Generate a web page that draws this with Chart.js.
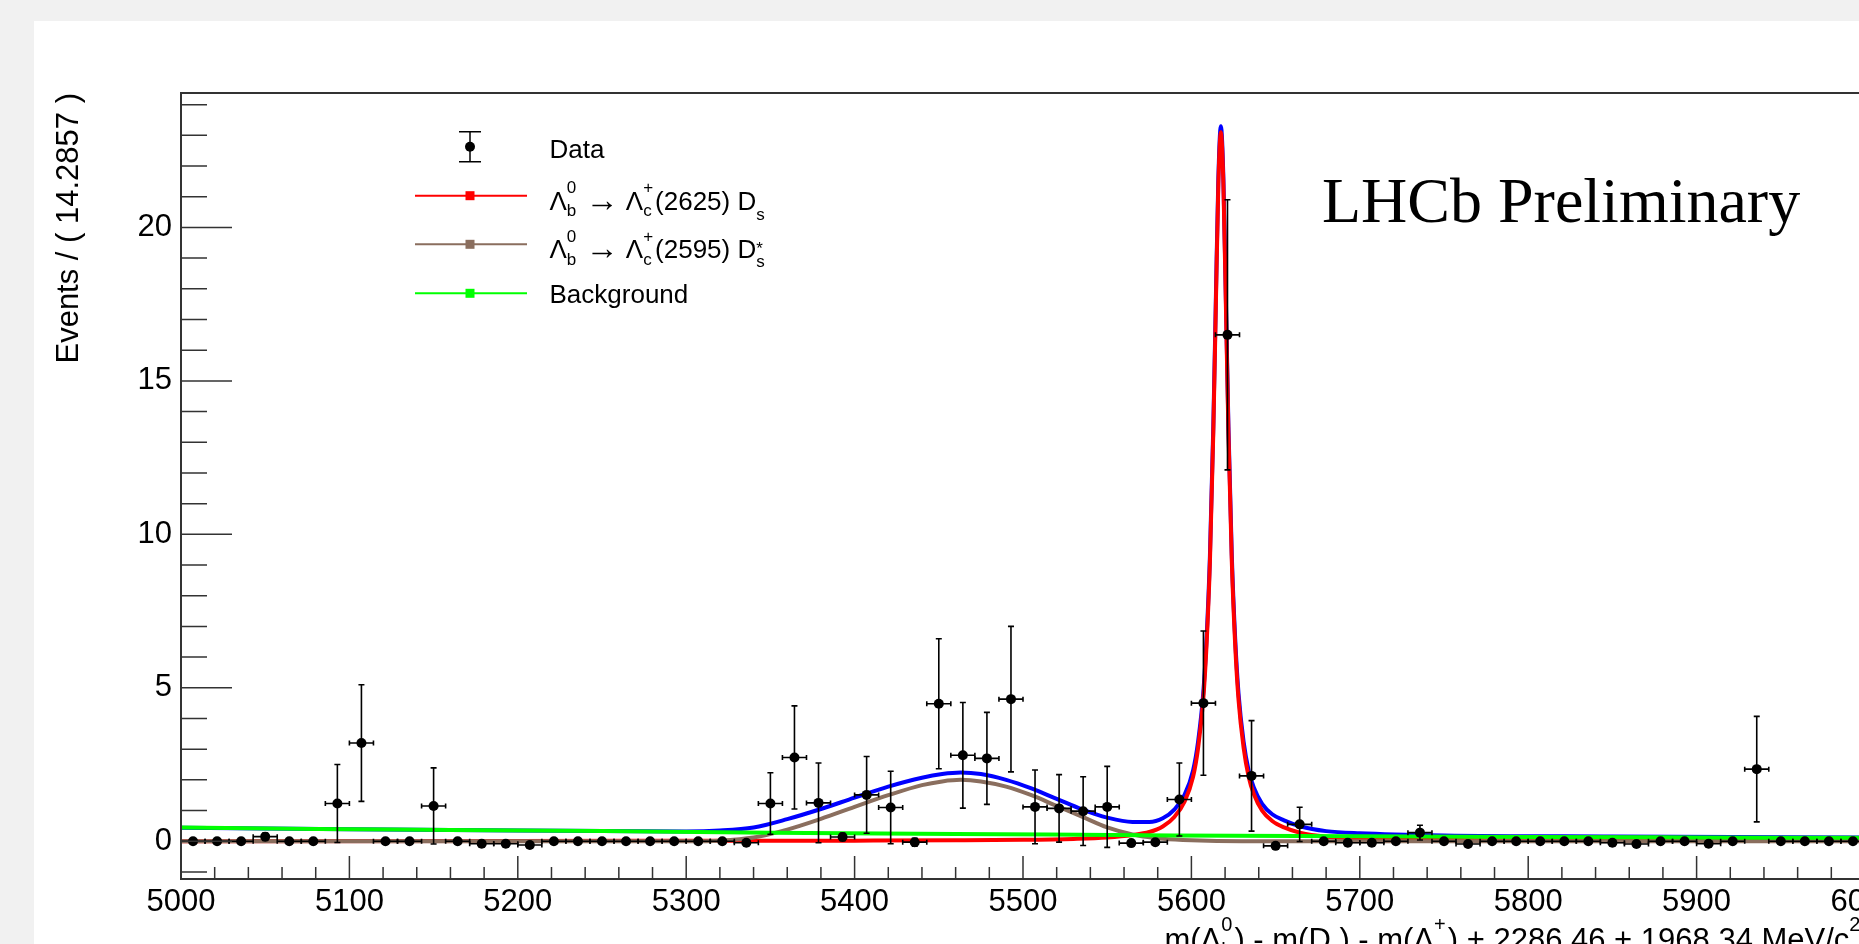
<!DOCTYPE html>
<html>
<head>
<meta charset="utf-8">
<title>Lambda_b fit</title>
<script src="https://cdn.jsdelivr.net/npm/chart.js@4.4.1/dist/chart.umd.min.js"></script>
<style>
  html, body { margin: 0; padding: 0; width: 1859px; height: 944px; overflow: hidden; background: #f1f1f1; }
  #panel { position: absolute; left: 34px; top: 21px; right: 0; bottom: 0; background: #fff; }
  #chart { position: absolute; left: 0; top: 0; }
</style>
</head>
<body>
<div id="panel"></div>
<canvas id="chart" width="1900" height="944"></canvas>
<script>
const SANS = '"Liberation Sans", Arial, Helvetica, sans-serif';
const SERIF = '"Liberation Serif", "Times New Roman", serif';

// 70 bins of 14.2857 MeV between 5000 and 6000
const binStart = 5000;
const binWidth = 1000 / 70;
const dataY = [
  0, 0, 0, 0.15, 0, 0, 1.23, 3.2, 0, 0,
  1.15, 0, -0.08, -0.08, -0.12, 0, 0, 0, 0, 0,
  0, 0, 0, -0.05, 1.23, 2.73, 1.25, 0.14, 1.51, 1.1,
  -0.03, 4.48, 2.8, 2.7, 4.63, 1.12, 1.07, 0.98, 1.12, -0.06,
  -0.03, 1.36, 4.5, 16.5, 2.13, -0.15, 0.55, 0, -0.05, -0.05,
  0, 0.28, 0, -0.09, 0, 0, 0, 0, 0, -0.05,
  -0.09, 0, 0, -0.08, 0, 2.35, 0, 0, 0, 0
];
const dataErr = [
  0, 0, 0, 0.12, 0, 0, 1.27, 1.9, 0, 0,
  1.24, 0, 0.08, 0.08, 0.1, 0, 0, 0, 0, 0,
  0, 0, 0, 0.05, 1.0, 1.68, 1.3, 0.12, 1.25, 1.18,
  0.13, 2.12, 1.72, 1.5, 2.37, 1.2, 1.1, 1.12, 1.32, 0.06,
  0.08, 1.19, 2.35, 4.4, 1.8, 0.08, 0.56, 0, 0.05, 0.05,
  0, 0.24, 0, 0.08, 0, 0, 0, 0, 0, 0.05,
  0.08, 0, 0, 0.08, 0, 1.72, 0, 0, 0, 0
];

// total fit (blue)
const totalX = [5000, 5100, 5200, 5300, 5320, 5340, 5360, 5380, 5400, 5420, 5440, 5452, 5463, 5475, 5490, 5505, 5520, 5535, 5550,
  5565, 5575, 5583, 5590, 5596, 5601, 5604, 5607, 5609, 5611, 5613, 5614.5, 5616, 5617.5, 5619, 5620.5, 5622, 5624, 5626, 5628,
  5631, 5634, 5637, 5642, 5648, 5655, 5665, 5680, 5700, 5750, 5850, 6000];
const totalY = [0.44, 0.39, 0.35, 0.32, 0.35, 0.45, 0.72, 1.05, 1.42, 1.78, 2.07, 2.19, 2.24, 2.19, 2.0, 1.72, 1.38, 1.04, 0.77,
  0.63, 0.63, 0.75, 1.04, 1.52, 2.31, 3.26, 4.8, 6.6, 9.3, 13.5, 17.6, 21.6, 23.3, 21.6, 17.6, 13.5, 9.3, 6.6, 4.8,
  3.24, 2.3, 1.76, 1.22, 0.88, 0.68, 0.48, 0.33, 0.26, 0.19, 0.155, 0.125];

// Lambda_c(2625) Ds component (red)
const peakX = [5000, 5200, 5400, 5460, 5500, 5530, 5550, 5565, 5575, 5583, 5590, 5596, 5601, 5604, 5607, 5609, 5611, 5613, 5614.5,
  5616, 5617.5, 5619, 5620.5, 5622, 5624, 5626, 5628, 5631, 5634, 5637, 5642, 5648, 5655, 5665, 5680, 5700, 5750, 5850, 6000];
const peakY = [0, 0.01, 0.02, 0.03, 0.045, 0.075, 0.12, 0.2, 0.3, 0.48, 0.8, 1.3, 2.1, 3.05, 4.6, 6.4, 9.1, 13.3, 17.4,
  21.4, 23.1, 21.4, 17.4, 13.3, 9.1, 6.4, 4.6, 3.05, 2.1, 1.55, 1.0, 0.66, 0.45, 0.27, 0.15, 0.09, 0.04, 0.015, 0.005];

// Lambda_c(2595) Ds* component (brown)
const bumpX = [5000, 5300, 5320, 5340, 5360, 5380, 5400, 5420, 5440, 5452, 5463, 5475, 5490, 5505, 5520, 5535, 5550, 5565,
  5575, 5583, 5600, 5630, 6000];
const bumpY = [0, 0, 0.02, 0.12, 0.38, 0.73, 1.12, 1.5, 1.83, 1.95, 2.0, 1.95, 1.78, 1.5, 1.15, 0.8, 0.45, 0.22,
  0.13, 0.08, 0.03, 0, 0];

// background (green)
const bkgX = [5000, 5080, 5160, 5250, 5350, 5460, 5590, 5700, 5800, 5900, 6000];
const bkgY = [0.45, 0.40, 0.37, 0.33, 0.28, 0.24, 0.19, 0.16, 0.14, 0.125, 0.11];

const xTicks = [5000, 5100, 5200, 5300, 5400, 5500, 5600, 5700, 5800, 5900, 6000];
const yTicks = [0, 5, 10, 15, 20];
const xMinorStep = 20;
const yMinorStep = 1;

const RED = '#ff0000', BROWN = '#8a6e5e', GREEN = '#00ff00', BLUE = '#0000ff';

const legendRows = [
  { kind: 'data', parts: ['Data'] },
  { kind: 'line', color: RED, parts: ['Λ', { sup: '0', sub: 'b' }, ' ', { big: '→' }, ' Λ', { sup: '+', sub: 'c' }, '(2625) D', { sub: 's', subDy: 10 }] },
  { kind: 'line', color: BROWN, parts: ['Λ', { sup: '0', sub: 'b' }, ' ', { big: '→' }, ' Λ', { sup: '+', sub: 'c' }, '(2595) D', { sup: '*', sub: 's', supDy: -4, subDy: 9 }] },
  { kind: 'line', color: GREEN, parts: ['Background'] }
];
const xTitleParts = ['m(Λ', { sup: '0', sub: 'b' }, ') - m(D ) - m(Λ', { sup: '+', sub: 'c' }, ') + 2286.46 + 1968.34 MeV/c', { sup: '2' }];

const points = dataY.map((v, i) => ({ x: binStart + (i + 0.5) * binWidth, y: v, err: dataErr[i] }));
const xy = (xs, ys) => xs.map((x, i) => ({ x: x, y: ys[i] }));

// text with ROOT-like stacked super/subscripts
function drawRich(ctx, parts, x, y, size) {
  const small = Math.round(size * 0.65);
  parts.forEach(p => {
    if (typeof p === 'string') {
      ctx.font = size + 'px ' + SANS;
      ctx.fillText(p, x, y);
      x += ctx.measureText(p).width;
    } else if (p.big) {
      ctx.font = Math.round(size * 1.25) + 'px ' + SANS;
      ctx.fillText(p.big, x, y + 1);
      x += ctx.measureText(p.big).width;
    } else {
      ctx.font = small + 'px ' + SANS;
      let w = 0;
      if (p.sup) {
        ctx.fillText(p.sup, x, y + (p.supDy !== undefined ? p.supDy : -size * 0.62));
        w = ctx.measureText(p.sup).width;
      }
      if (p.sub) {
        ctx.fillText(p.sub, x, y + (p.subDy !== undefined ? p.subDy : size * 0.24));
        w = Math.max(w, ctx.measureText(p.sub).width);
      }
      x += w + 2;
    }
  });
}

const rootStyle = {
  id: 'rootStyle',
  beforeDatasetDraw(chart, args) {
    if (args.index !== 0) return;
    const { ctx, scales: { x, y } } = chart;
    ctx.save();
    ctx.strokeStyle = '#000';
    ctx.lineWidth = 1.6;
    chart.data.datasets[0].data.forEach(p => {
      const px = x.getPixelForValue(p.x);
      const py = y.getPixelForValue(p.y);
      const xl = x.getPixelForValue(p.x - binWidth / 2);
      const xr = x.getPixelForValue(p.x + binWidth / 2);
      ctx.beginPath();
      ctx.moveTo(xl, py); ctx.lineTo(xr, py);
      ctx.moveTo(xl, py - 2.5); ctx.lineTo(xl, py + 2.5);
      ctx.moveTo(xr, py - 2.5); ctx.lineTo(xr, py + 2.5);
      if (p.err > 0) {
        const yt = y.getPixelForValue(p.y + p.err);
        const yb = y.getPixelForValue(p.y - p.err);
        ctx.moveTo(px, yt); ctx.lineTo(px, yb);
        ctx.moveTo(px - 3, yt); ctx.lineTo(px + 3, yt);
        ctx.moveTo(px - 3, yb); ctx.lineTo(px + 3, yb);
      }
      ctx.stroke();
    });
    ctx.restore();
  },
  afterDraw(chart) {
    const { ctx, chartArea: a, scales: { x, y } } = chart;
    ctx.save();
    // frame
    ctx.strokeStyle = '#333';
    ctx.lineWidth = 2;
    ctx.strokeRect(a.left, a.top, a.right - a.left, a.bottom - a.top);
    // ticks inside the frame
    ctx.lineWidth = 1.5;
    ctx.beginPath();
    for (let v = Math.ceil(y.min); v <= y.max; v += yMinorStep) {
      const py = y.getPixelForValue(v);
      const len = yTicks.includes(v) ? 51 : 26;
      ctx.moveTo(a.left, py); ctx.lineTo(a.left + len, py);
    }
    for (let v = x.min; v <= x.max; v += xMinorStep) {
      const px = x.getPixelForValue(v);
      const len = xTicks.includes(v) ? 23 : 12;
      ctx.moveTo(px, a.bottom); ctx.lineTo(px, a.bottom - len);
    }
    ctx.stroke();

    // legend
    ctx.fillStyle = '#000';
    ctx.textBaseline = 'alphabetic';
    ctx.textAlign = 'left';
    const lineY = [146.7, 195.7, 244.3, 293.3];
    const baseY = [158.3, 209.5, 258.3, 303.3];
    legendRows.forEach((r, i) => {
      const cy = lineY[i];
      if (r.kind === 'data') {
        ctx.strokeStyle = '#000';
        ctx.lineWidth = 1.5;
        ctx.beginPath();
        ctx.moveTo(470, cy - 15); ctx.lineTo(470, cy + 15);
        ctx.moveTo(459, cy - 15); ctx.lineTo(481, cy - 15);
        ctx.moveTo(459, cy + 15); ctx.lineTo(481, cy + 15);
        ctx.stroke();
        ctx.beginPath();
        ctx.arc(470, cy, 5, 0, Math.PI * 2);
        ctx.fill();
      } else {
        ctx.strokeStyle = r.color;
        ctx.lineWidth = 2;
        ctx.beginPath();
        ctx.moveTo(415, cy); ctx.lineTo(527, cy);
        ctx.stroke();
        ctx.fillStyle = r.color;
        ctx.fillRect(465.5, cy - 4.5, 9, 9);
        ctx.fillStyle = '#000';
      }
      drawRich(ctx, r.parts, 549.5, baseY[i], 26);
    });

    ctx.font = '64px ' + SERIF;
    ctx.fillText('LHCb Preliminary', 1322, 221.7);

    drawRich(ctx, xTitleParts, 1164.4, 950, 31);
    ctx.restore();
  }
};

const chart = new Chart(document.getElementById('chart').getContext('2d'), {
  type: 'scatter',
  data: {
    datasets: [
      { label: 'Data', data: points, order: 0, pointRadius: 5, pointHoverRadius: 5,
        backgroundColor: '#000', borderWidth: 0 },
      { label: 'Background', data: xy(bkgX, bkgY), order: 1, showLine: true, pointRadius: 0,
        borderColor: GREEN, borderWidth: 4, cubicInterpolationMode: 'monotone' },
      { label: 'Lb -> Lc(2595) Ds*', data: xy(bumpX, bumpY), order: 2, showLine: true, pointRadius: 0,
        borderColor: BROWN, borderWidth: 4, cubicInterpolationMode: 'monotone' },
      { label: 'Lb -> Lc(2625) Ds', data: xy(peakX, peakY), order: 3, showLine: true, pointRadius: 0,
        borderColor: RED, borderWidth: 4, cubicInterpolationMode: 'monotone' },
      { label: 'Total', data: xy(totalX, totalY), order: 4, showLine: true, pointRadius: 0,
        borderColor: BLUE, borderWidth: 4, cubicInterpolationMode: 'monotone' }
    ]
  },
  options: {
    responsive: false,
    animation: false,
    events: [],
    layout: { padding: { left: 0, top: 93, right: 35, bottom: 0 } },
    plugins: { legend: { display: false }, tooltip: { enabled: false } },
    scales: {
      x: {
        type: 'linear', min: 5000, max: 6000,
        grid: { display: false, drawTicks: false },
        border: { display: false },
        ticks: { color: '#000', font: { family: SANS, size: 31 }, padding: 5, maxRotation: 0, autoSkip: false,
          callback: v => String(v) },
        afterBuildTicks: s => { s.ticks = xTicks.map(v => ({ value: v })); },
        afterFit: s => { s.height = 65; s.paddingLeft = 0; s.paddingRight = 0; }
      },
      y: {
        type: 'linear', min: -1.23, max: 24.38,
        grid: { display: false, drawTicks: false },
        border: { display: false },
        ticks: { color: '#000', font: { family: SANS, size: 31 }, padding: 9, autoSkip: false,
          callback: v => String(v) },
        title: { display: true, text: 'Events / ( 14.2857 )', align: 'end', color: '#000',
          font: { family: SANS, size: 31 }, padding: { top: 51, bottom: 0 } },
        afterBuildTicks: s => { s.ticks = yTicks.map(v => ({ value: v })); },
        afterFit: s => { s.width = 181; s.paddingTop = 0; s.paddingBottom = 0; }
      }
    }
  },
  plugins: [rootStyle]
});
</script>
</body>
</html>
